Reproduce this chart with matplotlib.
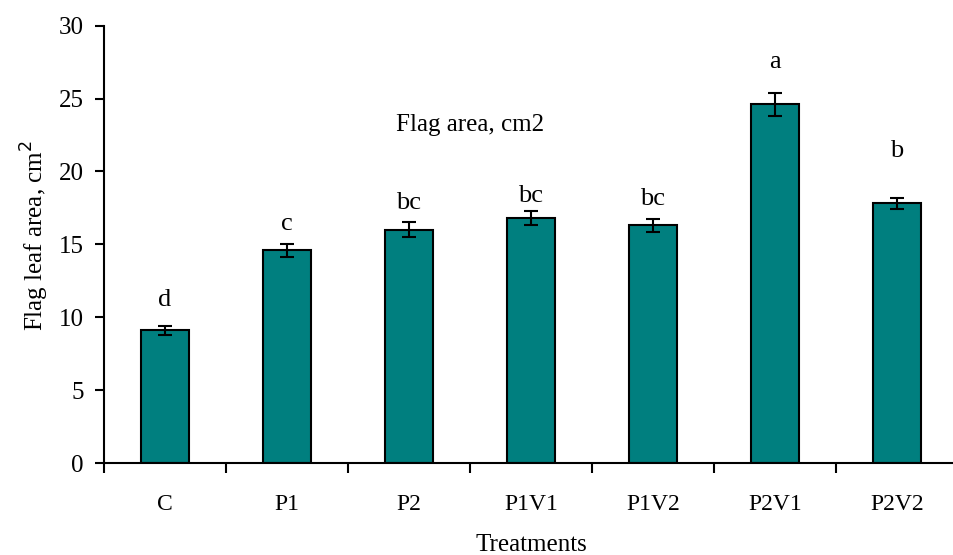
import matplotlib
matplotlib.use("Agg")
import matplotlib.pyplot as plt
import numpy as np

categories = ["C", "P1", "P2", "P1V1", "P1V2", "P2V1", "P2V2"]
values = [9.1, 14.6, 16.0, 16.8, 16.3, 24.6, 17.8]
errors = [0.3, 0.45, 0.5, 0.45, 0.45, 0.8, 0.4]
letters = ["d", "c", "bc", "bc", "bc", "a", "b"]
letter_y = [11.2, 16.4, 17.8, 18.3, 18.1, 27.5, 21.4]
yticks = [0, 5, 10, 15, 20, 25, 30]

plt.rcParams['font.family'] = ['Liberation Serif', 'DejaVu Serif']

fig = plt.figure(figsize=(9.54, 5.55), dpi=100)
W, H = 954, 555
left, right, top, bottom = 104, 958, 25.6, 463
ax = fig.add_axes([left / W, 1 - bottom / H, (right - left) / W, (bottom - top) / H])

x = np.arange(len(categories))
ax.bar(x, values, width=0.4, color="#007f7f", edgecolor="black", linewidth=1.5, zorder=2)
ax.errorbar(x, values, yerr=errors, fmt="none", ecolor="black", elinewidth=1.5,
            capsize=5, capthick=1.5, zorder=3)
for xi, lab, ly in zip(x, letters, letter_y):
    ax.text(xi, ly, lab, ha="center", va="center", fontsize=19)

ax.text(2.5, 23.2, "Flag area, cm2", ha="center", va="center", fontsize=18)

ax.set_xlim(-0.5, len(categories) - 0.5)
ax.set_ylim(0, 30)
ax.set_yticks(yticks)
ax.set_yticklabels([str(t) for t in yticks], fontsize=18)
ax.set_xticks(x)
ax.set_xticklabels(categories, fontsize=17)
ax.tick_params(axis="x", which="major", length=0, pad=22)
ax.set_xticks(np.arange(-0.5, len(categories), 1.0), minor=True)
ax.tick_params(axis="x", which="minor", length=7, width=1.5, direction="out")
ax.tick_params(axis="y", length=6.5, width=1.5, direction="out", pad=8)

for s in ["top", "right"]:
    ax.spines[s].set_visible(False)
for s in ["left", "bottom"]:
    ax.spines[s].set_linewidth(1.5)

ax.set_ylabel("Flag leaf area, cm$^{2}$", fontsize=18, labelpad=6)
ax.yaxis.label.set_y(0.519)
ax.set_xlabel("Treatments", fontsize=18, labelpad=14)

fig.savefig("out.png", dpi=100)
